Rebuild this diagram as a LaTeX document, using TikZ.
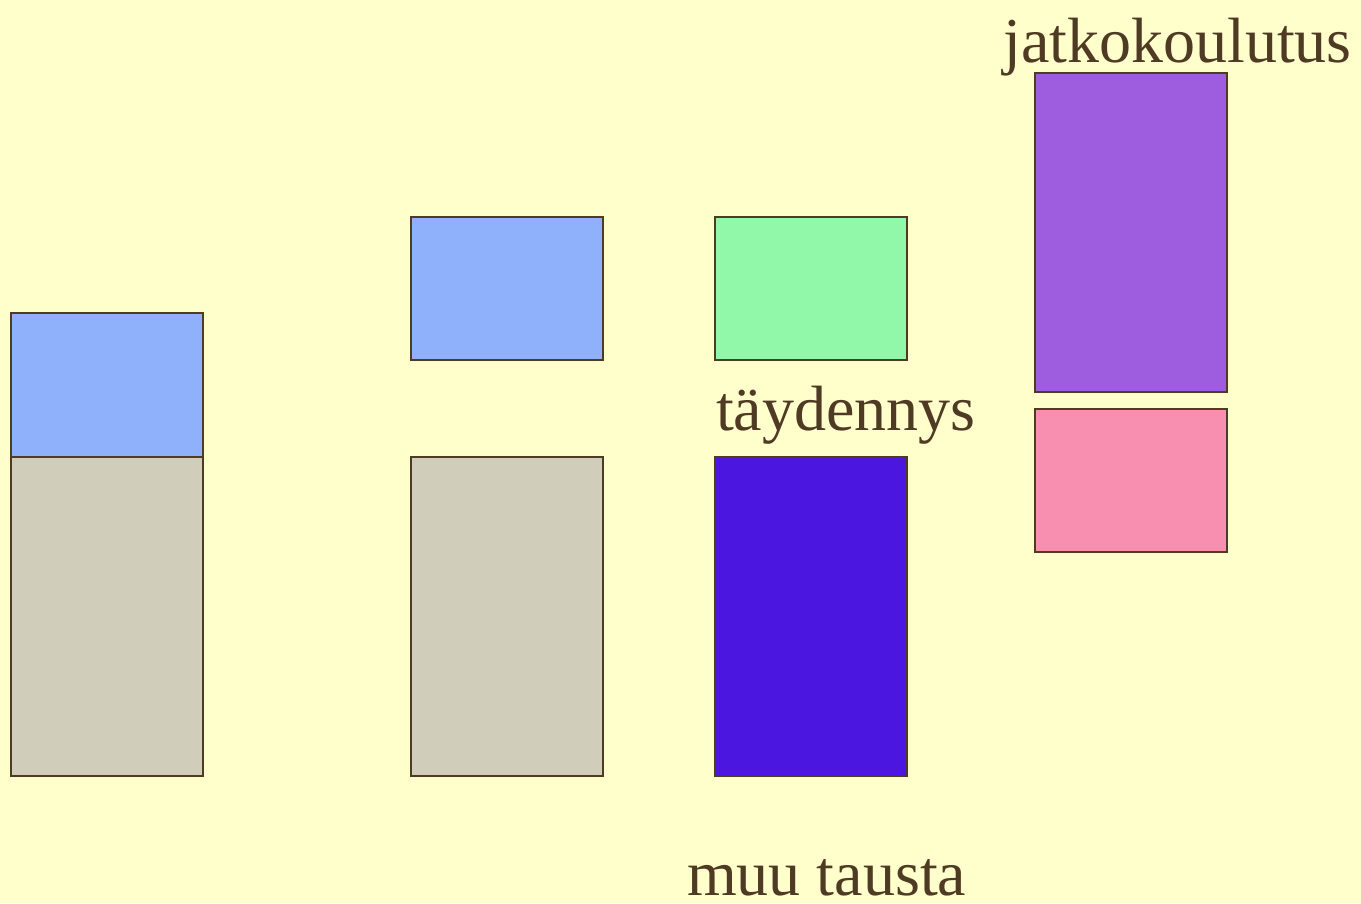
\documentclass[tikz,border=0pt]{standalone}
\usepackage{fontspec}
\setmainfont{Liberation Serif}
\definecolor{bg}{HTML}{FFFFCC}
\definecolor{ink}{HTML}{4F3A23}
\definecolor{cblue}{HTML}{8FB0FA}
\definecolor{cgray}{HTML}{D0CEBA}
\definecolor{cgreen}{HTML}{90F8A8}
\definecolor{cdark}{HTML}{4B16E0}
\definecolor{cpurple}{HTML}{9E5CDE}
\definecolor{cpink}{HTML}{F88FB1}
\begin{document}
\begin{tikzpicture}[x=1pt,y=-1pt,
  box/.style={draw=ink,line width=1.5pt,inner sep=0pt,outer sep=0pt,anchor=north west,minimum width=192pt},
  lbl/.style={text=ink,inner sep=0pt,anchor=base west,font=\fontsize{64}{77}\selectfont}]
\fill[bg] (0,0) rectangle (1361,903);
\useasboundingbox (0,0) rectangle (1361,903);
\node[box,fill=cblue,minimum height=144pt] (b1) at (11,313) {};
\node[box,fill=cgray,minimum height=319pt] (g1) at (11,457) {};
\node[box,fill=cblue,minimum height=143pt] (b2) at (411,217) {};
\node[box,fill=cgray,minimum height=319pt] (g2) at (411,457) {};
\node[box,fill=cgreen,minimum height=143pt] (gr) at (715,217) {};
\node[box,fill=cdark,minimum height=319pt] (dk) at (715,457) {};
\node[box,fill=cpurple,minimum height=319pt] (pu) at (1035,73) {};
\node[box,fill=cpink,minimum height=143pt] (pk) at (1035,409) {};
\node[lbl] (t1) at (1003,62) {jatkokoulutus};
\node[lbl] (t2) at (716,430) {täydennys};
\node[lbl] (t3) at (687,895) {muu tausta};
\end{tikzpicture}
\end{document}
